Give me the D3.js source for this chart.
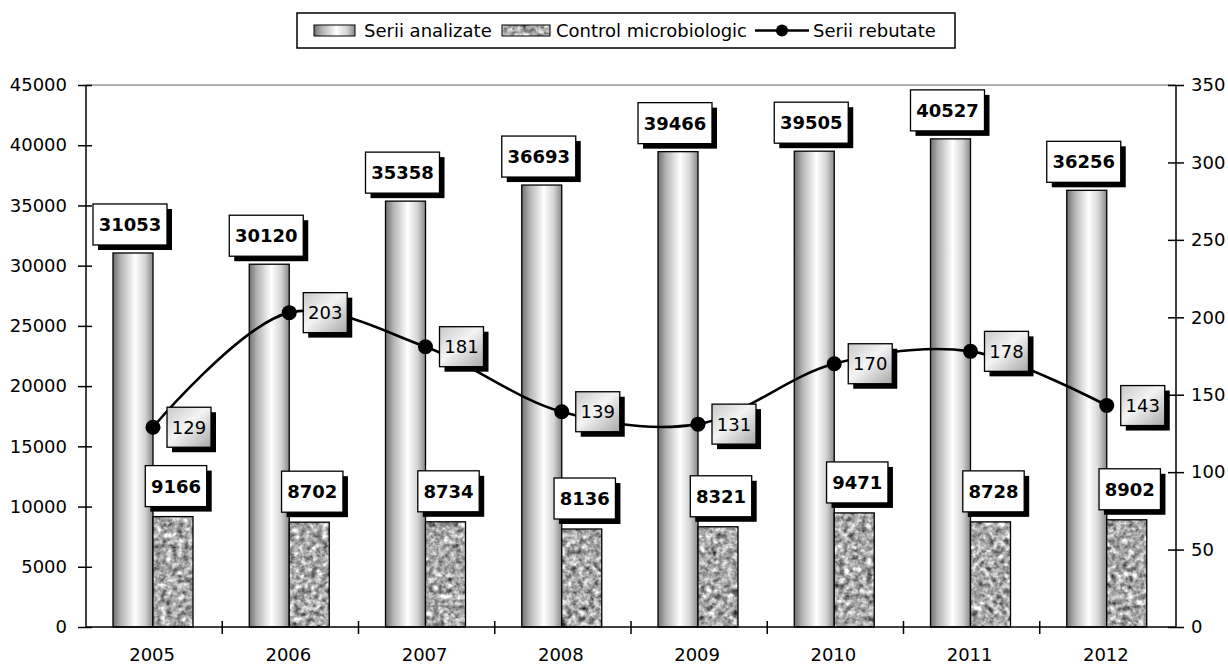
<!DOCTYPE html>
<html><head><meta charset="utf-8">
<script src="https://cdn.jsdelivr.net/npm/d3@7"></script>
<style>body{margin:0;background:#fff}svg{display:block;font-family:"DejaVu Sans",Verdana,sans-serif}</style>
</head><body><svg id="c" width="1228" height="669"></svg>
<script>
const years = ["2005","2006","2007","2008","2009","2010","2011","2012"];
const seriiAnalizate = [31053,30120,35358,36693,39466,39505,40527,36256];
const controlMicro = [9166,8702,8734,8136,8321,9471,8728,8902];
const seriiRebutate = [129,203,181,139,131,170,178,143];
const leftTicks = [0,5000,10000,15000,20000,25000,30000,35000,40000,45000];
const rightTicks = [0,50,100,150,200,250,300,350];
const legendNames = ["Serii analizate","Control microbiologic","Serii rebutate"];

const svg = d3.select("#c");
const L = 86, R = 1176, T = 85, B = 627;
const x = d3.scaleBand().domain(years).range([L, R]).padding(0);
const y = d3.scaleLinear().domain([0,45000]).range([B, T]);
const y2 = d3.scaleLinear().domain([0,350]).range([B, T]);

const defs = svg.append("defs");
const bg = defs.append("linearGradient").attr("id","barGrad").attr("x1","0").attr("x2","1").attr("y1","0").attr("y2","0");
[[0,"#707070"],[0.2,"#b4b4b4"],[0.55,"#ffffff"],[0.8,"#d4d4d4"],[1,"#888888"]].forEach(s=>bg.append("stop").attr("offset",s[0]).attr("stop-color",s[1]));
const lg = defs.append("linearGradient").attr("id","lblGrad").attr("x1","0").attr("x2","1").attr("y1","0").attr("y2","1");
[[0,"#c8c8c8"],[0.45,"#f4f4f4"],[1,"#a8a8a8"]].forEach(s=>lg.append("stop").attr("offset",s[0]).attr("stop-color",s[1]));
const f = defs.append("filter").attr("id","noise").attr("x","0").attr("y","0").attr("width","1").attr("height","1").attr("filterUnits","objectBoundingBox").attr("color-interpolation-filters","sRGB");
f.append("feTurbulence").attr("type","fractalNoise").attr("baseFrequency","0.18").attr("numOctaves","3").attr("seed","4").attr("result","t");
f.append("feColorMatrix").attr("in","t").attr("type","matrix").attr("values","0.33 0.33 0.33 0 0 0.33 0.33 0.33 0 0 0.33 0.33 0.33 0 0 0 0 0 0 1").attr("result","g");
const ct = f.append("feComponentTransfer").attr("in","g").attr("result","c");
["feFuncR","feFuncG","feFuncB"].forEach(n=>ct.append(n).attr("type","linear").attr("slope","1.9").attr("intercept","-0.28"));
f.append("feComposite").attr("in","c").attr("in2","SourceGraphic").attr("operator","in");

// top gray line
svg.append("line").attr("x1",L).attr("x2",R).attr("y1",T).attr("y2",T).attr("stroke","#9a9a9a").attr("stroke-width",1.5);

// bars
const bw = 40;
const ax = d => x(d) + 27, cx = d => x(d) + 67;
svg.selectAll(".ba").data(years).enter().append("rect")
  .attr("x",(d)=>ax(d)).attr("width",bw)
  .attr("y",(d,i)=>y(seriiAnalizate[i])).attr("height",(d,i)=>B-y(seriiAnalizate[i]))
  .attr("fill","url(#barGrad)").attr("stroke","#000").attr("stroke-width",1.3);
svg.selectAll(".bc").data(years).enter().append("rect")
  .attr("x",(d)=>cx(d)).attr("width",bw)
  .attr("y",(d,i)=>y(controlMicro[i])).attr("height",(d,i)=>B-y(controlMicro[i]))
  .attr("fill","#999").attr("filter","url(#noise)");
svg.selectAll(".bc2").data(years).enter().append("rect")
  .attr("x",(d)=>cx(d)).attr("width",bw)
  .attr("y",(d,i)=>y(controlMicro[i])).attr("height",(d,i)=>B-y(controlMicro[i]))
  .attr("fill","none").attr("stroke","#000").attr("stroke-width",1.3);

// axes
const gl = svg.append("g").attr("transform",`translate(${L},0)`).call(d3.axisLeft(y).tickValues(leftTicks).tickSize(8).tickPadding(11).tickFormat(d3.format("d")));
gl.selectAll(".tick line").attr("x1",6);
const gr = svg.append("g").attr("transform",`translate(${R},0)`).call(d3.axisRight(y2).tickValues(rightTicks).tickSize(8).tickPadding(7));
gr.selectAll(".tick line").attr("x1",-8);
const gb = svg.append("g").attr("transform",`translate(0,${B})`).call(d3.axisBottom(x).tickSize(0).tickPadding(21));
gb.selectAll(".tick text").attr("dx", -2);
// category boundary ticks
svg.selectAll(".xt").data(years.slice(1)).enter().append("line")
  .attr("x1",d=>x(d)).attr("x2",d=>x(d)).attr("y1",B-6).attr("y2",B+7).attr("stroke","#000").attr("stroke-width",1.5);
[gl,gr,gb].forEach(g=>{
  g.selectAll(".domain").attr("stroke","#000").attr("stroke-width",1.5);
  g.selectAll(".tick line").attr("stroke","#000").attr("stroke-width",1.5);
  g.selectAll("text").attr("font-size",18).attr("fill","#000").attr("font-family","DejaVu Sans");
});
gl.select(".domain").attr("d",`M0,${T}V${B}`);
gr.select(".domain").attr("d",`M0,${T}V${B}`);
gb.select(".domain").attr("d",`M${L},0H${R}`);

// line
const pts = years.map((d,i)=>[cx(d), y2(seriiRebutate[i])]);
svg.append("path").attr("d", d3.line().curve(d3.curveCatmullRom.alpha(0.5))(pts))
  .attr("fill","none").attr("stroke","#000").attr("stroke-width",2.6);
svg.selectAll(".dot").data(pts).enter().append("circle")
  .attr("cx",d=>d[0]).attr("cy",d=>d[1]).attr("r",7.5).attr("fill","#000");

// labels
function label(cxm, cy, text, bold, fill, w, h){
  const g = svg.append("g");
  g.append("rect").attr("x",cxm-w/2+5).attr("y",cy-h/2+5).attr("width",w).attr("height",h).attr("fill","#000");
  g.append("rect").attr("x",cxm-w/2).attr("y",cy-h/2).attr("width",w).attr("height",h).attr("fill",fill).attr("stroke","#000").attr("stroke-width",1.3);
  g.append("text").attr("x",cxm).attr("y",cy).attr("dy","0.36em").attr("text-anchor","middle")
    .attr("font-size",18).attr("font-weight",bold?"bold":"normal").text(text);
}
years.forEach((d,i)=>{
  const t = String(seriiAnalizate[i]);
  label(ax(d)+bw/2-3, y(seriiAnalizate[i]) - 8 - 20.5, t, true, "#fff", t.length*12.6+11, 41);
  const c = String(controlMicro[i]);
  label(cx(d)+bw/2+3, y(controlMicro[i]) - 10 - 20.5, c, true, "#fff", c.length*12.6+11, 41);
  const r = String(seriiRebutate[i]);
  label(pts[i][0]+14+22, pts[i][1], r, false, "url(#lblGrad)", 44, 40);
});

// legend
const lgG = svg.append("g");
lgG.append("rect").attr("x",297).attr("y",13).attr("width",658).attr("height",35).attr("fill","#fff").attr("stroke","#000").attr("stroke-width",1.5);
lgG.append("rect").attr("x",314).attr("y",25).attr("width",41).attr("height",11).attr("fill","url(#barGrad)").attr("stroke","#000").attr("stroke-width",1);
lgG.append("rect").attr("x",502).attr("y",25).attr("width",48).attr("height",11).attr("fill","#999").attr("filter","url(#noise)");
lgG.append("rect").attr("x",502).attr("y",25).attr("width",48).attr("height",11).attr("fill","none").attr("stroke","#000").attr("stroke-width",1);
lgG.append("line").attr("x1",755).attr("x2",809).attr("y1",30.5).attr("y2",30.5).attr("stroke","#000").attr("stroke-width",2.6);
lgG.append("circle").attr("cx",782).attr("cy",30.5).attr("r",6).attr("fill","#000");
[[364,legendNames[0]],[556,legendNames[1]],[813,legendNames[2]]].forEach(p=>{
  lgG.append("text").attr("x",p[0]).attr("y",30.5).attr("dy","0.36em").attr("font-size",18).text(p[1]);
});
</script></body></html>
